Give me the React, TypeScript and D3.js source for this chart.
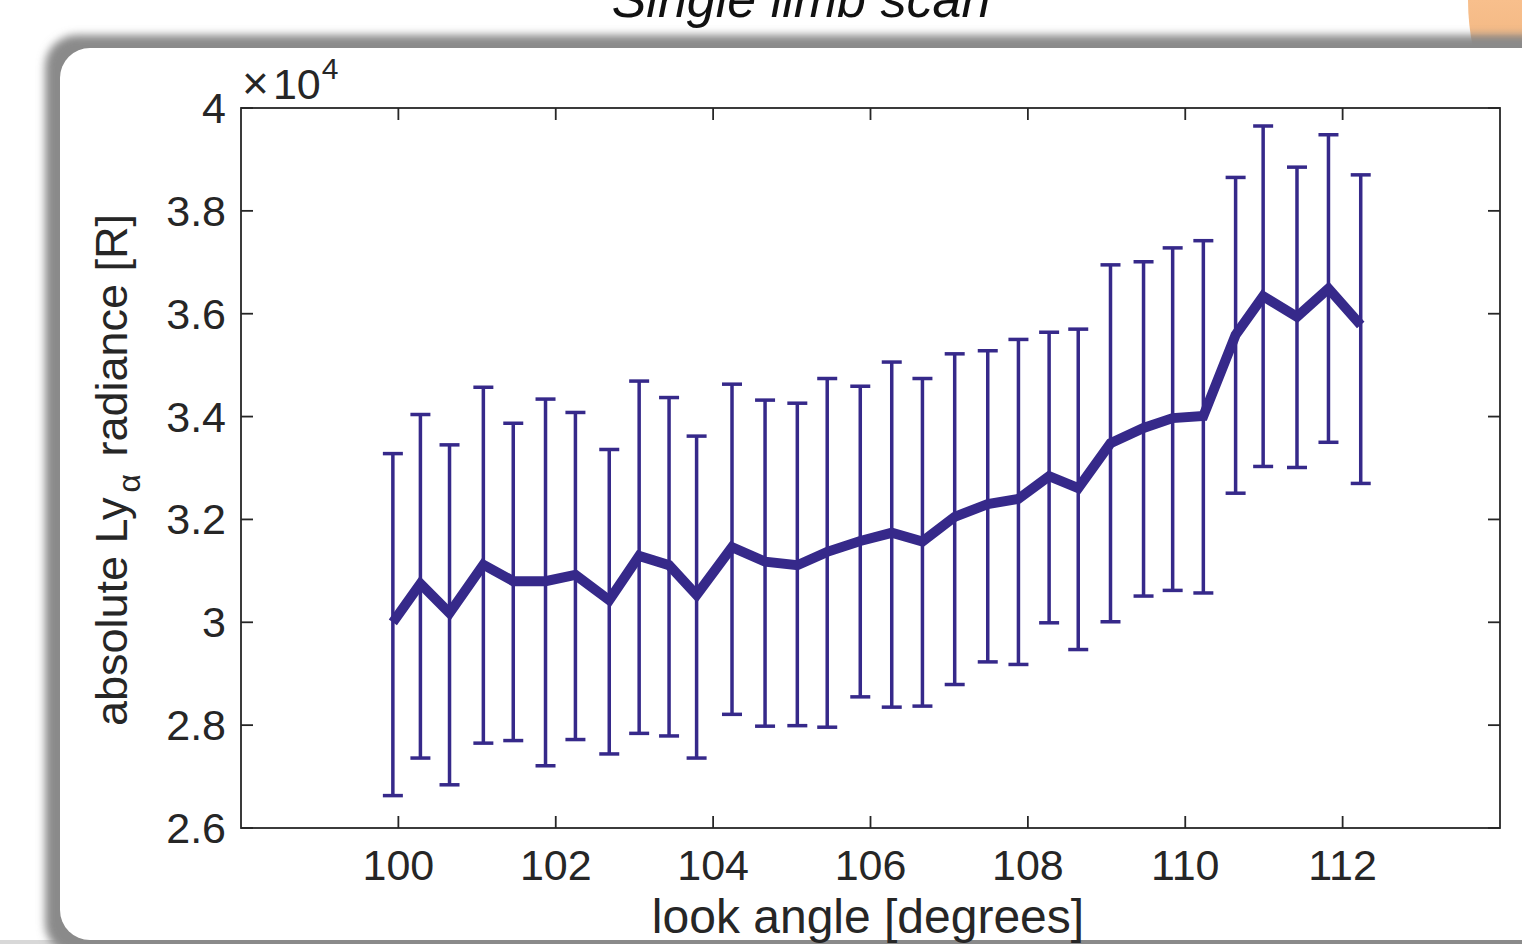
import React, { useEffect } from "react";
import * as d3 from "d3";

const lookAngle = [99.93, 100.28, 100.65, 101.08, 101.46, 101.87, 102.25, 102.68, 103.06, 103.44, 103.79, 104.24, 104.66, 105.07, 105.45, 105.87, 106.27, 106.66, 107.07, 107.49, 107.88, 108.27, 108.64, 109.05, 109.47, 109.84, 110.23, 110.64, 110.99, 111.42, 111.82, 112.23];
const radiance = [3.000, 3.075, 3.018, 3.112, 3.080, 3.080, 3.092, 3.043, 3.129, 3.111, 3.053, 3.146, 3.118, 3.111, 3.137, 3.158, 3.174, 3.157, 3.205, 3.230, 3.240, 3.284, 3.261, 3.348, 3.378, 3.397, 3.401, 3.559, 3.634, 3.594, 3.649, 3.578];
const upper = [3.328, 3.404, 3.345, 3.457, 3.387, 3.434, 3.408, 3.336, 3.469, 3.437, 3.362, 3.463, 3.432, 3.426, 3.474, 3.459, 3.506, 3.474, 3.522, 3.528, 3.550, 3.564, 3.570, 3.695, 3.701, 3.728, 3.742, 3.865, 3.965, 3.885, 3.948, 3.870];
const lower = [2.663, 2.736, 2.684, 2.765, 2.770, 2.721, 2.772, 2.744, 2.784, 2.779, 2.736, 2.821, 2.798, 2.799, 2.796, 2.855, 2.835, 2.837, 2.879, 2.923, 2.918, 2.999, 2.947, 3.001, 3.051, 3.062, 3.057, 3.251, 3.303, 3.301, 3.350, 3.270];
const xTicks = [100, 102, 104, 106, 108, 110, 112];
const yTicks = [2.6, 2.8, 3, 3.2, 3.4, 3.6, 3.8, 4];

const W = 1522, H = 944;
const FONT = "'Liberation Sans', Arial, Helvetica, sans-serif";
const TXT = "#262626";
const LINE = "#36298A";

export default function App() {
  useEffect(() => {
    document.body.style.margin = "0";
  }, []);
  const x = d3.scaleLinear().domain([98, 114]).range([241, 1500]);
  const y = d3.scaleLinear().domain([2.6, 4]).range([828, 108]);
  const line = d3.line<number>().x((_, i) => x(lookAngle[i])).y((d) => y(d));
  const [x0, x1] = x.range();
  const [y0, y1] = y.range();
  const tickLen = 12;
  return (
    <svg width={W} height={H} style={{ display: "block", position: "absolute", left: 0, top: 0 }} fontFamily={FONT}>
      <defs>
        <filter id="blur" x="-10%" y="-10%" width="120%" height="120%">
          <feGaussianBlur stdDeviation="4" />
        </filter>
        <linearGradient id="orange" x1="0" y1="0" x2="0" y2="1">
          <stop offset="0" stopColor="#F8BF8C" />
          <stop offset="0.7" stopColor="#F4BA86" />
          <stop offset="1" stopColor="#B98860" />
        </linearGradient>
      </defs>
      <rect x={0} y={0} width={W} height={H} fill="#ffffff" />
      <text x={801} y={17} textAnchor="middle" fontSize={52} fontStyle="italic" fill="#111">Single limb scan</text>
      <path d="M1468,0 L1522,0 L1522,48 L1473,48 Q1468,24 1468,0 Z" fill="url(#orange)" />
      <rect x={0} y={940} width={W} height={4} fill="#d8d8d8" />
      {/* card shadow */}
      <rect x={45} y={35} width={1560} height={920} rx={32} fill="#8a8a8a" filter="url(#blur)" />
      <rect x={60} y={48} width={1560} height={892} rx={30} fill="#ffffff" />

      {/* axes box */}
      <rect x={x0} y={y1} width={x1 - x0} height={y0 - y1} fill="none" stroke={TXT} strokeWidth={1.8} />
      {xTicks.map((t) => (
        <g key={"xt" + t}>
          <line x1={x(t)} x2={x(t)} y1={y0} y2={y0 - tickLen} stroke={TXT} strokeWidth={1.8} />
          <line x1={x(t)} x2={x(t)} y1={y1} y2={y1 + tickLen} stroke={TXT} strokeWidth={1.8} />
          <text x={x(t)} y={880} textAnchor="middle" fontSize={43} fill={TXT}>{t}</text>
        </g>
      ))}
      {yTicks.map((t) => (
        <g key={"yt" + t}>
          <line x1={x0} x2={x0 + tickLen} y1={y(t)} y2={y(t)} stroke={TXT} strokeWidth={1.8} />
          <line x1={x1} x2={x1 - tickLen} y1={y(t)} y2={y(t)} stroke={TXT} strokeWidth={1.8} />
          <text x={226} y={y(t) + 15} textAnchor="end" fontSize={43} fill={TXT}>{String(Math.round(t * 10) / 10)}</text>
        </g>
      ))}
      <text x={242} y={99} fontSize={43} fill={TXT}>
        <tspan fontSize={46} fontWeight={300}>×</tspan><tspan dx={4}>10</tspan><tspan fontSize={30} dy={-20} dx={1}>4</tspan>
      </text>

      {/* error bars */}
      {lookAngle.map((a, i) => (
        <g key={"eb" + i} stroke={LINE} strokeWidth={3.5}>
          <line x1={x(a)} x2={x(a)} y1={y(lower[i])} y2={y(upper[i])} />
          <line x1={x(a) - 10} x2={x(a) + 10} y1={y(upper[i])} y2={y(upper[i])} />
          <line x1={x(a) - 10} x2={x(a) + 10} y1={y(lower[i])} y2={y(lower[i])} />
        </g>
      ))}
      <path d={line(radiance) || ""} fill="none" stroke={LINE} strokeWidth={10} strokeLinejoin="miter" />

      <text x={868} y={933} textAnchor="middle" fontSize={48} fill={TXT}>look angle [degrees]</text>
      <text transform="translate(127,470) rotate(-90)" textAnchor="middle" fontSize={45} fill={TXT}>
        absolute Ly<tspan fontSize={32} dy={13} dx={5}>α</tspan><tspan dy={-13} dx={5}> radiance [R]</tspan>
      </text>
    </svg>
  );
}
